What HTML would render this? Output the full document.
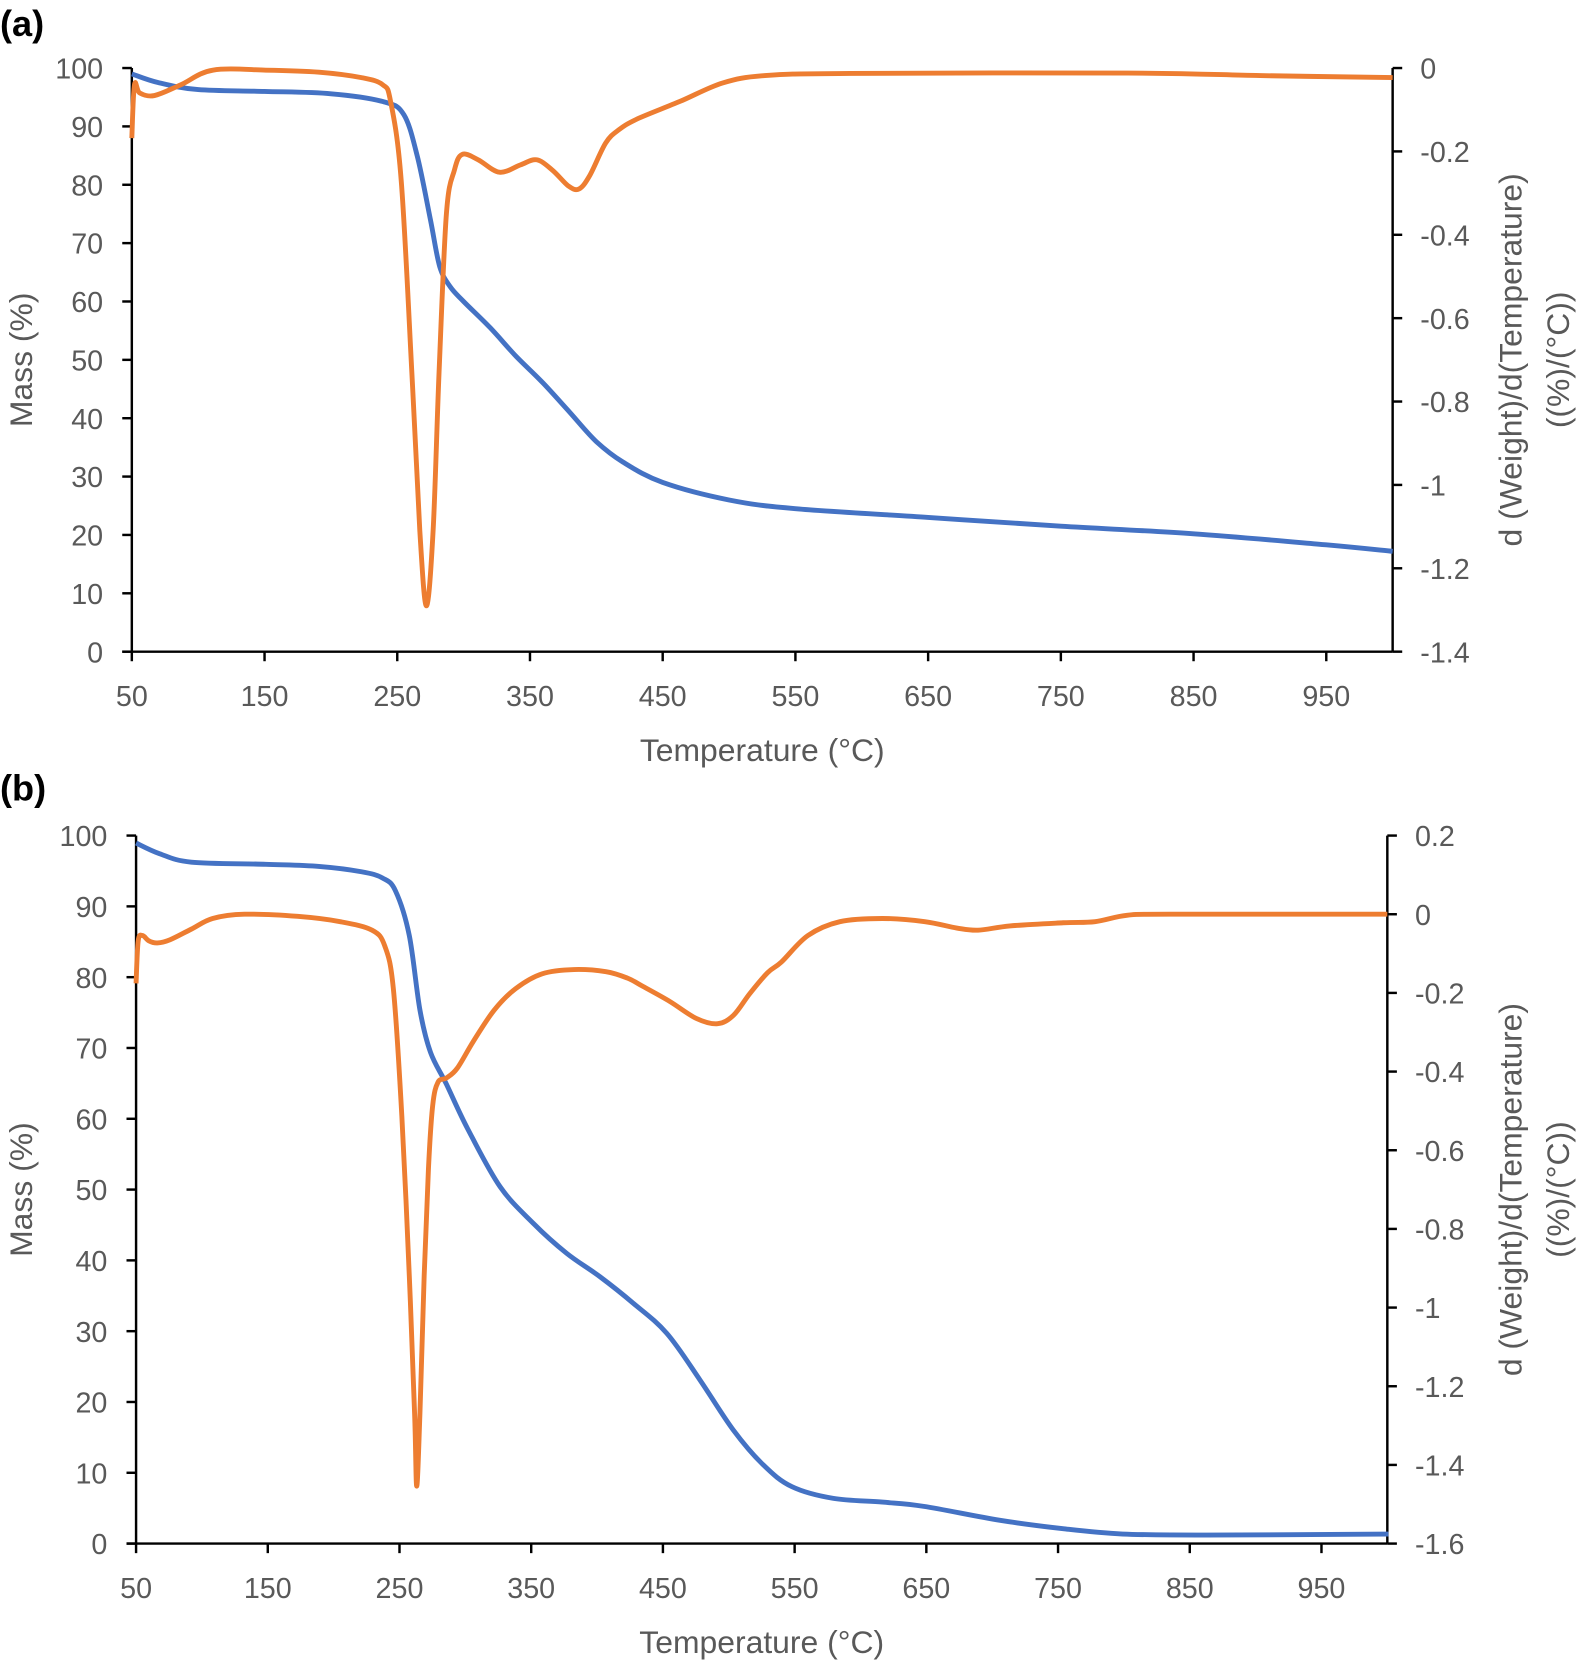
<!DOCTYPE html>
<html><head><meta charset="utf-8"><style>
html,body{margin:0;padding:0;background:#fff;}
svg{display:block;}
text{font-family:"Liberation Sans",sans-serif;fill:#595959;}
</style></head><body>
<svg id="s" width="1584" height="1672" viewBox="0 0 1490 1572.8" preserveAspectRatio="none" xmlns="http://www.w3.org/2000/svg">
<text x="0" y="34" style="font-weight:bold;font-size:34px;fill:#000">(a)</text>
<text x="0" y="753" style="font-weight:bold;font-size:34px;fill:#000">(b)</text>
<g id="g"></g>
</svg>
<script>
var g=document.getElementById('g');var h='';
function cr(pts){var d='M'+pts[0][0].toFixed(1)+','+pts[0][1].toFixed(1);
for(var i=0;i<pts.length-1;i++){var p0=pts[i-1]||pts[i],p1=pts[i],p2=pts[i+1],p3=pts[i+2]||p2;
var c1=[p1[0]+(p2[0]-p0[0])/6,p1[1]+(p2[1]-p0[1])/6],c2=[p2[0]-(p3[0]-p1[0])/6,p2[1]-(p3[1]-p1[1])/6];
d+='C'+c1[0].toFixed(1)+','+c1[1].toFixed(1)+' '+c2[0].toFixed(1)+','+c2[1].toFixed(1)+' '+p2[0].toFixed(1)+','+p2[1].toFixed(1);}return d;}
function panel(o){
var X=function(t){return o.x0+(t-50)*(o.x1-o.x0)/950};
var Ym=function(m){return o.y1-m*(o.y1-o.y0)/100};
var Yd=function(v){return o.y0+(o.rmax-v)*(o.y1-o.y0)/(o.rmax-o.rmin)};
h+='<line x1="'+o.x0+'" y1="'+o.y0+'" x2="'+o.x0+'" y2="'+o.y1+'" stroke="#000" stroke-width="2.3"/>';
h+='<line x1="'+o.x1+'" y1="'+o.y0+'" x2="'+o.x1+'" y2="'+o.y1+'" stroke="#000" stroke-width="2.3"/>';
h+='<line x1="'+(o.x0-9)+'" y1="'+o.y1+'" x2="'+o.x1+'" y2="'+o.y1+'" stroke="#000" stroke-width="2.3"/>';
for(var m=0;m<=100;m+=10){var y=Ym(m);h+='<line x1="'+(o.x0-9)+'" y1="'+y+'" x2="'+o.x0+'" y2="'+y+'" stroke="#000" stroke-width="2.3"/>';
h+='<text x="'+(o.x0-27)+'" y="'+(y+10)+'" text-anchor="end" font-size="27">'+m+'</text>';}
for(var t=50;t<=1000;t+=100){var x=X(t);h+='<line x1="'+x+'" y1="'+o.y1+'" x2="'+x+'" y2="'+(o.y1+9)+'" stroke="#000" stroke-width="2.3"/>';
h+='<text x="'+x+'" y="'+(o.y1+51)+'" text-anchor="middle" font-size="27">'+t+'</text>';}
for(var k=0;k<o.rt.length;k++){var v=o.rt[k],y=Yd(v);h+='<line x1="'+o.x1+'" y1="'+y+'" x2="'+(o.x1+9)+'" y2="'+y+'" stroke="#000" stroke-width="2.3"/>';
h+='<text x="'+(o.x1+26)+'" y="'+(y+10)+'" font-size="27">'+o.rl[k]+'</text>';}
var cy=(o.y0+o.y1)/2;
h+='<text transform="translate(30,'+cy+') rotate(-90)" text-anchor="middle" font-size="30">Mass (%)</text>';
h+='<text transform="translate(1431,'+cy+') rotate(-90)" text-anchor="middle" font-size="30">d (Weight)/d(Temperature)</text>';
h+='<text transform="translate(1476,'+cy+') rotate(-90)" text-anchor="middle" font-size="30">((%)/(°C))</text>';
h+='<text x="'+((o.x0+o.x1)/2)+'" y="'+(o.y1+103)+'" text-anchor="middle" font-size="30">Temperature (°C)</text>';
var bp=o.blue.map(function(p){return o.disp?p:[X(p[0]),Ym(p[1])]});
var op=o.orange.map(function(p){return o.disp?p:[X(p[0]),Yd(p[1])]});
h+='<path d="'+cr(bp)+'" fill="none" stroke="#4472C4" stroke-width="4.6" stroke-linejoin="round"/>';
h+='<path d="'+cr(op)+'" fill="none" stroke="#ED7D31" stroke-width="4.6" stroke-linejoin="round"/>';
}
panel({x0:124,x1:1310,y0:64,y1:613,rmax:0,rmin:-1.4,rt:[0,-0.2,-0.4,-0.6,-0.8,-1,-1.2,-1.4],rl:['0','-0.2','-0.4','-0.6','-0.8','-1','-1.2','-1.4'],
blue:[[50,99],[70,97.5],[100,96.3],[150,96],[200,95.6],[240,94.2],[255,92],[265,85],[275,74],[282,66],[290,62.5],[300,60],[320,55.5],[340,50.5],[360,46],[380,41],[400,36],[420,32.5],[450,29],[500,26],[550,24.5],[650,23],[750,21.5],[850,20.2],[950,18.3],[1000,17.2]],
orange:[[50,-0.168],[52,-0.04],[56,-0.06],[67,-0.066],[87,-0.04],[111,-0.005],[151,-0.005],[191,-0.01],[223,-0.023],[239,-0.04],[245,-0.08],[253,-0.27],[261,-0.73],[267,-1.11],[272,-1.29],[277,-1.11],[281.5,-0.73],[287,-0.35],[293,-0.245],[299,-0.207],[311,-0.22],[327,-0.25],[343,-0.232],[355,-0.22],[367,-0.245],[379,-0.283],[387,-0.29],[395,-0.258],[407,-0.18],[417,-0.148],[431,-0.122],[463,-0.08],[495,-0.036],[527,-0.018],[591,-0.013],[800,-0.012],[900,-0.018],[1000,-0.023]]});
panel({x0:128,x1:1305,y0:786,y1:1452,rmax:0.2,rmin:-1.6,rt:[0.2,0,-0.2,-0.4,-0.6,-0.8,-1,-1.2,-1.4,-1.6],rl:['0.2','0','-0.2','-0.4','-0.6','-0.8','-1','-1.2','-1.4','-1.6'],disp:true,
blue:[[128,793],[150,803],[180,811],[250,813],[300,815],[340,820],[360,826],[372,838],[385,880],[395,950],[405,990],[420,1020],[440,1062],[470.4,1116.3],[501.7,1150.8],[533.1,1179],[564.4,1201],[595.8,1226],[627.2,1254.2],[658.5,1298.2],[689.8,1345.2],[718,1378],[745,1398.5],[784,1409.5],[830,1413],[869,1417],[940,1430],[1000,1438],[1056,1443],[1135,1444],[1306,1443]],
orange:[[128,925],[130,885],[134,880],[140,885],[148,887],[160,884],[180,874],[200,864],[230,860],[280,862],[320,867],[350,875],[362,890],[370,930],[378,1050],[385,1200],[390,1330],[392,1398],[395,1330],[399,1200],[403,1100],[407,1040],[412,1018],[420,1014],[430,1005],[445,980],[465,950],[485,930],[510,916],[540,912],[570,914],[590,920],[605,928],[630,942],[655,958],[675,963],[690,955],[705,935],[722,915],[735,905],[760,880],[790,867],[830,864],[870,867],[900,873],[920,875],[950,871],[1000,868],[1030,867],[1060,861],[1100,860],[1305,860]]});
g.innerHTML=h;
</script>
</body></html>
